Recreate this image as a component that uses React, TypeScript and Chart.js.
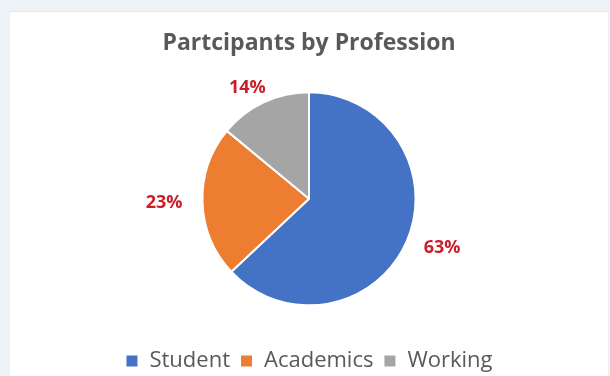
import React, { useEffect, useRef } from "react";
import { Chart, registerables } from "chart.js";

Chart.register(...registerables);

const categories = ["Student", "Academics", "Working"];
const values = [63, 23, 14];
const colors = ["#4472C4", "#ED7D31", "#A5A5A5"];
const titleText = "Partcipants by Profession";

const labelPlugin = {
  id: "outsideLabels",
  afterDatasetsDraw(chart: any) {
    const ctx = chart.ctx;
    const meta = chart.getDatasetMeta(0);
    const data = chart.data.datasets[0].data as number[];
    ctx.save();
    ctx.font = "bold 18px 'Open Sans'";
    ctx.fillStyle = "#C91F2B";
    ctx.textAlign = "center";
    ctx.textBaseline = "middle";
    const gapX = 20;
    const gapY = 10;
    meta.data.forEach((arc: any, i: number) => {
      const p = arc.getProps(["x", "y", "startAngle", "endAngle", "outerRadius"], true);
      const mid = (p.startAngle + p.endAngle) / 2;
      const dx = Math.cos(mid);
      const dy = Math.sin(mid);
      const text = `${data[i]}%`;
      const w = ctx.measureText(text).width;
      const h = 13;
      const px = p.x + dx * (p.outerRadius + gapX) + (dx * w) / 2;
      const py = p.y + dy * (p.outerRadius + gapY) + (dy * h) / 2;
      ctx.fillText(text, px, py);
    });
    ctx.restore();
  },
};

export default function App() {
  const ref = useRef<HTMLCanvasElement>(null);
  useEffect(() => {
    document.body.style.margin = "0";
    const chart = new Chart(ref.current!, {
      type: "pie",
      data: {
        labels: categories,
        datasets: [
          {
            data: values,
            backgroundColor: colors,
            borderColor: "#ffffff",
            borderWidth: 2,
            radius: "76%",
          },
        ],
      },
      options: {
        animation: false,
        responsive: false,
        maintainAspectRatio: false,
        layout: { padding: 0 },
        plugins: {
          title: {
            display: true,
            text: titleText,
            color: "#595959",
            font: { family: "'Open Sans'", size: 23, weight: "bold", lineHeight: 1.2 },
            padding: { top: 18, bottom: 0 },
          },
          legend: {
            position: "bottom",
            labels: {
              color: "#595959",
              font: { family: "'Open Sans'", size: 22 },
              boxWidth: 13,
              boxHeight: 13,
              padding: 10,
            },
          },
          tooltip: { enabled: false },
        },
      },
      plugins: [labelPlugin],
    });
    return () => chart.destroy();
  }, []);
  return (
    <div
      style={{
        position: "fixed",
        left: 0,
        top: 0,
        width: 610,
        height: 376,
        overflow: "hidden",
        background: "#EDF2F6",
      }}
    >
      <div
        style={{
          position: "absolute",
          left: 10,
          top: 11,
          width: 598,
          height: 371,
          background: "#FFFFFF",
          borderTop: "1px solid #E2E6EA",
        }}
      >
        <canvas ref={ref} width={598} height={370} style={{ display: "block" }} />
      </div>
    </div>
  );
}
